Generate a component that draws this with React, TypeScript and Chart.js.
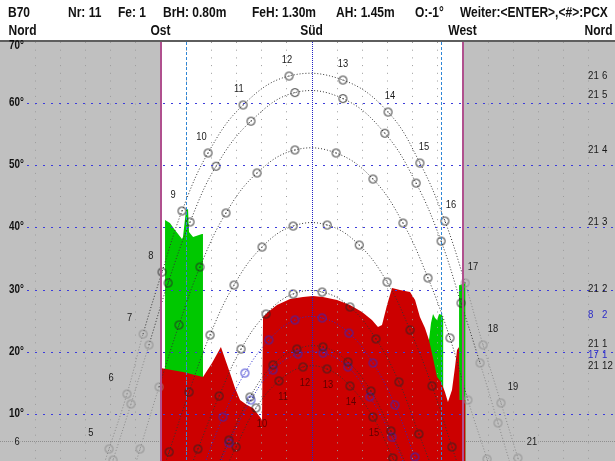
import React, { useEffect, useRef } from 'react';
import { Chart, registerables } from 'chart.js';

Chart.register(...registerables);

// ---------------- data ----------------
const HEADER_TEXTS = ['B70', 'Nr: 11', 'Fe: 1', 'BrH: 0.80m', 'FeH: 1.30m', 'AH: 1.45m', 'O:-1°', 'Weiter:<ENTER>,<#>:PCX'];
const COMPASS_AZ = [0, 90, 180, 270, 360];
const COMPASS_LABELS = ['Nord', 'Ost', 'Süd', 'West', 'Nord'];
const ALT_TICKS = [10, 20, 30, 40, 50, 60, 70];
const GRID_AZ = [15, 30, 45, 60, 75, 105, 120, 135, 150, 165, 195, 210, 225, 240, 255, 285, 300, 315, 330, 345];
const WALL_AZ = [90, 270];
const SOUTH_AZ = 180;
const WINDOW_AZ = [105, 257];
const MARK_ALT = 5.76;
const MARK_LABELS = ['6', '21'];
const MARK_LABEL_AZ = [4.5, 311.4];

const DATE_LABELS = ['21 6', '21 5', '21 4', '21 3', '21 2', '8 2', '21 1', '17 1', '21 12'];
const DATE_BLUE = [false, false, false, false, false, true, false, true, false];
const FIRST_HOUR = [5, 5, 6, 7, 8, 9, 9, 9, 9];

// sun positions at full hours: [azimuth °, altitude °]
const SUN_21_6 = [[59.3, 4.43], [70.0, 13.25], [79.6, 22.88], [90.9, 32.83], [102.8, 42.62], [118.3, 51.93], [139.2, 59.63], [166.6, 64.28], [198.7, 63.64], [225.6, 58.5], [244.6, 50.32], [259.5, 41.01], [271.5, 31.07], [282.2, 21.12], [292.9, 11.81], [303.0, 2.98]];
const SUN_21_5 = [[61.7, 2.66], [72.4, 11.65], [83.1, 21.12], [94.5, 31.07], [107.6, 40.86], [123.1, 49.81], [143.9, 57.04], [170.1, 61.62], [198.7, 60.66], [223.7, 55.1], [242.3, 47.1], [257.2, 37.79], [269.1, 27.85], [280.4, 18.23], [291.1, 8.6]];
const SUN_21_4 = [[77.8, 4.43], [89.1, 14.38], [101.0, 24.33], [113.5, 33.63], [129.0, 42.3], [147.5, 48.72], [170.1, 52.41], [194.6, 51.93], [216.6, 47.75], [234.5, 40.69], [249.4, 31.87], [262.5, 22.24], [273.2, 12.29], [284.6, 2.82]];
const SUN_21_3 = [[95.1, 3.95], [107.0, 13.57], [119.5, 22.72], [133.8, 30.74], [150.5, 36.84], [169.0, 40.21], [189.3, 40.37], [208.4, 37.16], [225.0, 31.22], [238.7, 23.52], [251.8, 14.54], [263.7, 4.75]];
const SUN_21_2 = [[112.3, 4.43], [124.9, 12.93], [138.0, 20.47], [152.9, 26.09], [169.0, 29.3], [186.3, 29.62], [202.9, 27.22], [218.4, 22.08], [232.1, 15.18], [244.0, 6.84]];
const SUN_8_2 = [[127.2, 9.56], [140.3, 16.62], [154.6, 21.92], [170.1, 25.13], [186.3, 25.45], [202.3, 23.03], [216.6, 18.23], [229.7, 11.49], [241.6, 3.15]];
const SUN_21_1 = [[130.8, 5.87], [143.3, 12.77], [157.0, 17.91], [171.3, 20.47], [186.8, 20.8], [201.7, 18.39], [215.4, 13.73], [227.3, 7.32]];
const SUN_17_1 = [[130.8, 5.39], [143.9, 12.29], [157.0, 17.11], [171.9, 19.67], [186.8, 19.83], [201.7, 17.59], [214.8, 12.79], [227.9, 6.35]];
const SUN_21_12 = [[135.0, 4.75], [146.9, 11.01], [160.6, 15.34], [174.9, 17.59], [189.2, 17.27], [202.9, 14.54], [216.6, 9.56], [228.5, 2.98]];
const SUN_PATHS = [SUN_21_6, SUN_21_5, SUN_21_4, SUN_21_3, SUN_21_2, SUN_8_2, SUN_21_1, SUN_17_1, SUN_21_12];
const SUNRISE_AZ = [53.9, 58.5, 72.8, 90.2, 105.7, 113.5, 121.3, 122.1, 126.8];
const SUNSET_AZ = [306.4, 300.7, 288.0, 269.5, 253.8, 246.1, 239.5, 238.5, 233.6];

const TOP_LABEL_HOURS = [5, 6, 7, 8, 9, 10, 11, 12, 13, 14, 15, 16, 17, 18, 19];
const BOTTOM_LABEL_HOURS = [10, 11, 12, 13, 14, 15];

// obstruction skyline (red) and vegetation (green): [azimuth °, altitude °]
const SKYLINE = [[90.0, 17.43], [103.4, 16.78], [115.3, 15.98], [120.7, 18.23], [126.0, 20.8], [131.4, 16.62], [134.4, 14.22], [137.4, 12.29], [141.5, 11.49], [145.1, 11.01], [149.3, 9.56], [150.5, 9.08], [151.1, 25.61], [154.1, 26.41], [159.4, 27.53], [167.2, 28.5], [174.9, 28.82], [180.8, 28.98], [186.8, 28.82], [195.2, 28.34], [202.9, 27.53], [210.1, 26.41], [216.0, 25.13], [219.6, 24.01], [222.0, 24.33], [225.0, 27.53], [228.0, 30.26], [232.7, 29.94], [238.7, 29.62], [241.7, 28.34], [244.6, 25.61], [247.6, 23.84], [250.0, 21.92], [252.4, 19.02], [254.8, 15.98], [257.2, 15.18], [259.5, 13.57], [261.3, 11.97], [263.7, 13.9], [265.5, 17.59], [266.7, 20.31], [267.9, 20.8], [268.2, 12.29], [271.8, 12.29]];
const TREES_EAST = [[92.7, 41.16], [95.6, 40.69], [98.6, 39.57], [102.8, 38.12], [103.4, 38.45], [105.2, 42.78], [106.4, 42.94], [106.7, 40.85], [107.0, 39.25], [109.4, 38.45], [114.7, 38.93], [115.3, 38.93]];
const TREES_SW = [[250.0, 21.92], [251.2, 24.63], [252.4, 26.09], [253.6, 25.45], [254.8, 25.13], [256.0, 26.09], [257.8, 25.93], [258.6, 25.13]];
const TREES_WEST = [[267.9, 30.7], [271.8, 31.07]];

// ---------------- styling ----------------
const HEADER_X = [8, 68, 118, 163, 252, 336, 415, 460];
const DATE_LABEL_DY = [0, 2, 0, -3, -3, -3, -3, 2, -1];
const BOLD_FONT = "bold 14px 'Liberation Sans', Arial, sans-serif";
const TICK_FONT = "bold 12px 'Liberation Sans', Arial, sans-serif";
const SMALL_FONT = "11px 'Liberation Sans', Arial, sans-serif";
const NARROW = 0.857;
const GRAY_BG = '#c0c0c0';
const RED = '#cc0000';
const GREEN = '#00c800';

const inShade = (az: number) => az < 90 || az > 270;

function makeRing(color: string) {
  const c = document.createElement('canvas');
  c.width = 11;
  c.height = 11;
  const g = c.getContext('2d')!;
  g.strokeStyle = color;
  g.lineWidth = 1;
  g.beginPath();
  g.arc(5.5, 5.5, 4, 0, Math.PI * 2);
  g.stroke();
  g.fillStyle = color;
  g.fillRect(5, 5, 1, 1);
  return c;
}

function vline(ctx: CanvasRenderingContext2D, x: number, y0: number, y1: number) {
  ctx.beginPath();
  ctx.moveTo(x, y0);
  ctx.lineTo(x, y1);
  ctx.stroke();
}
function hline(ctx: CanvasRenderingContext2D, y: number, x0: number, x1: number) {
  ctx.beginPath();
  ctx.moveTo(x0, y);
  ctx.lineTo(x1, y);
  ctx.stroke();
}
function narrowText(ctx: CanvasRenderingContext2D, t: string, x: number, y: number, sx: number) {
  ctx.save();
  ctx.translate(x, y);
  ctx.scale(sx, 1);
  ctx.fillText(t, 0, 0);
  ctx.restore();
}

const sunPlugin = {
  id: 'sunDiagram',
  beforeDatasetsDraw(chart: any) {
    const { ctx, chartArea: a, scales } = chart;
    const xs = scales.x;
    const ys = scales.y;
    ctx.save();
    ctx.fillStyle = GRAY_BG;
    const xe = xs.getPixelForValue(WALL_AZ[0]);
    const xw = xs.getPixelForValue(WALL_AZ[1]);
    ctx.fillRect(a.left, a.top, xe - a.left, a.bottom - a.top);
    ctx.fillRect(xw, a.top, a.right - xw, a.bottom - a.top);
    const my = Math.round(ys.getPixelForValue(MARK_ALT)) + 0.5;
    ctx.strokeStyle = '#8e8e8e';
    ctx.lineWidth = 1;
    ctx.setLineDash([1, 1]);
    hline(ctx, my, a.left, a.right);
    ctx.restore();
  },
  afterDatasetsDraw(chart: any) {
    const { ctx, chartArea: a, scales } = chart;
    const xs = scales.x;
    const ys = scales.y;
    ctx.save();
    ctx.lineWidth = 1;
    ctx.strokeStyle = '#9c9c9c';
    ctx.setLineDash([1, 6.7]);
    GRID_AZ.forEach((az) => {
      const px = Math.round(xs.getPixelForValue(az)) + 0.5;
      vline(ctx, px, a.top, a.bottom);
    });
    ctx.strokeStyle = '#3c3cdc';
    ctx.setLineDash([2, 6]);
    ALT_TICKS.filter((v) => v < 70).forEach((v) => {
      const py = Math.round(ys.getPixelForValue(v)) + 0.5;
      hline(ctx, py, a.left + 27, a.right);
    });
    ctx.strokeStyle = '#2424c4';
    ctx.setLineDash([1, 1]);
    vline(ctx, Math.round(xs.getPixelForValue(SOUTH_AZ)) + 0.5, a.top, a.bottom);
    ctx.strokeStyle = '#2e86d6';
    ctx.setLineDash([3, 2]);
    WINDOW_AZ.forEach((az) => vline(ctx, Math.round(xs.getPixelForValue(az)) + 0.5, a.top, a.bottom));
    ctx.setLineDash([]);
    ctx.strokeStyle = '#b0508e';
    ctx.lineWidth = 2;
    WALL_AZ.forEach((az) => vline(ctx, Math.round(xs.getPixelForValue(az)), a.top, a.bottom));
    ctx.fillStyle = '#5e5e5e';
    ctx.fillRect(a.left, a.top - 2, a.right - a.left, 2);
    ctx.restore();
  },
  afterDraw(chart: any) {
    const { ctx, chartArea: a, scales } = chart;
    const xs = scales.x;
    const ys = scales.y;
    ctx.save();
    // compass labels
    ctx.font = BOLD_FONT;
    ctx.fillStyle = '#111';
    ctx.textBaseline = 'alphabetic';
    COMPASS_AZ.forEach((az, i) => {
      const px = xs.getPixelForValue(az);
      const last = i === COMPASS_AZ.length - 1;
      ctx.textAlign = i === 0 ? 'left' : last ? 'right' : 'center';
      narrowText(ctx, COMPASS_LABELS[i], i === 0 || last ? px - 1 : px, 35, NARROW);
    });
    // altitude labels
    ctx.font = TICK_FONT;
    ctx.textAlign = 'left';
    ALT_TICKS.forEach((v) => {
      const py = ys.getPixelForValue(v);
      const base = v === 70 ? a.top + 7 : py + 3;
      narrowText(ctx, v + '°', 9, base, 0.82);
    });
    // marker labels
    ctx.font = SMALL_FONT;
    ctx.textAlign = 'center';
    ctx.textBaseline = 'middle';
    const my = ys.getPixelForValue(MARK_ALT);
    MARK_LABELS.forEach((t, i) => {
      const px = xs.getPixelForValue(MARK_LABEL_AZ[i]);
      const w = ctx.measureText(t).width * 0.85;
      ctx.fillStyle = GRAY_BG;
      ctx.fillRect(px - w / 2 - 1, my - 5, w + 2, 10);
      ctx.fillStyle = '#1a1a1a';
      narrowText(ctx, t, px, my + 1, 0.85);
    });
    // hour labels above the highest path
    ctx.fillStyle = '#1a1a1a';
    TOP_LABEL_HOURS.forEach((h) => {
      const p = SUN_21_6[h - FIRST_HOUR[0]];
      const dx = h <= 12 ? -2 - (12 - h) * 2.3 : (h - 13) * 2;
      narrowText(ctx, String(h), xs.getPixelForValue(p[0]) + dx, ys.getPixelForValue(p[1]) - 16, 0.85);
    });
    // hour labels below the lowest path
    ctx.fillStyle = '#5e0000';
    BOTTOM_LABEL_HOURS.forEach((h) => {
      const p = SUN_21_12[h - FIRST_HOUR[8]];
      const dx = h <= 12 ? 2 + (12 - h) * 2 : 1;
      narrowText(ctx, String(h), xs.getPixelForValue(p[0]) + dx, ys.getPixelForValue(p[1]) + 16, 0.85);
    });
    // date labels
    ctx.textAlign = 'left';
    DATE_LABELS.forEach((lbl, i) => {
      const maxAlt = Math.max(...SUN_PATHS[i].map((p) => p[1]));
      const py = ys.getPixelForValue(maxAlt) + DATE_LABEL_DY[i];
      const [d, m] = lbl.split(' ');
      ctx.fillStyle = DATE_BLUE[i] ? '#2a2ac8' : '#1a1a1a';
      narrowText(ctx, d, 588, py, 0.88);
      narrowText(ctx, m, 602, py, 0.88);
    });
    ctx.restore();
  },
};

export default function App() {
  const canvasRef = useRef<HTMLCanvasElement | null>(null);

  useEffect(() => {
    document.body.style.margin = '0';
    const canvas = canvasRef.current;
    if (!canvas) return;
    const rings = { dark: makeRing('#262626'), gray: makeRing('#8e8e8e'), blue: makeRing('#2a2acc') };

    const area = (pts: number[][], color: string, order: number) => ({
      type: 'line',
      data: pts.map(([x, y]) => ({ x, y })),
      borderWidth: 0,
      borderColor: color,
      backgroundColor: color,
      pointRadius: 0,
      tension: 0,
      fill: 'start',
      order,
    });

    const paths = SUN_PATHS.map((pts, i) => {
      const blue = DATE_BLUE[i];
      const data = [
        { x: SUNRISE_AZ[i], y: 0, h: null as number | null },
        ...pts.map(([x, y], k) => ({ x, y, h: FIRST_HOUR[i] + k })),
        { x: SUNSET_AZ[i], y: 0, h: null as number | null },
      ];
      return {
        type: 'line',
        data,
        borderColor: blue ? '#2a2acc' : '#333333',
        borderWidth: 1,
        borderDash: [1, 2],
        tension: 0.4,
        fill: false,
        order: 1 + i,
        segment: {
          borderColor: (c: any) => (!blue && inShade(c.p0.parsed.x) && inShade(c.p1.parsed.x) ? '#8a8a8a' : undefined),
        },
        pointRadius: (c: any) => (c.raw && c.raw.h != null ? 4 : 0),
        pointStyle: (c: any) => {
          if (blue) return rings.blue;
          const az = c.raw ? c.raw.x : 180;
          return inShade(az) ? rings.gray : rings.dark;
        },
      };
    });

    const chart = new Chart(canvas, {
      type: 'line',
      data: {
        datasets: [
          area(TREES_EAST, GREEN, 40),
          area(TREES_SW, GREEN, 41),
          area(TREES_WEST, GREEN, 42),
          area(SKYLINE, RED, 30),
          ...paths,
        ] as any,
      },
      options: {
        animation: false,
        responsive: false,
        maintainAspectRatio: false,
        layout: { padding: { top: 42, left: 0, right: 0, bottom: 0 } },
        elements: { line: { capBezierPoints: false } },
        plugins: { legend: { display: false }, tooltip: { enabled: false } },
        events: [],
        scales: {
          x: { type: 'linear', min: -5.66, max: 360.85, display: false },
          y: { type: 'linear', min: 2.5, max: 69.74, display: false },
        },
      } as any,
      plugins: [sunPlugin],
    });
    return () => chart.destroy();
  }, []);

  return (
    <div style={{ position: 'relative', width: 615, height: 461, overflow: 'hidden', background: '#fff' }}>
      <canvas ref={canvasRef} width={615} height={461} style={{ position: 'absolute', left: 0, top: 0, width: 615, height: 461 }} />
      {HEADER_TEXTS.map((t, i) => (
        <span
          key={i}
          style={{
            position: 'absolute',
            left: HEADER_X[i],
            top: 5,
            font: BOLD_FONT,
            lineHeight: '15px',
            color: '#111',
            whiteSpace: 'pre',
            transform: `scaleX(${NARROW})`,
            transformOrigin: 'left top',
          }}
        >
          {t}
        </span>
      ))}
    </div>
  );
}
